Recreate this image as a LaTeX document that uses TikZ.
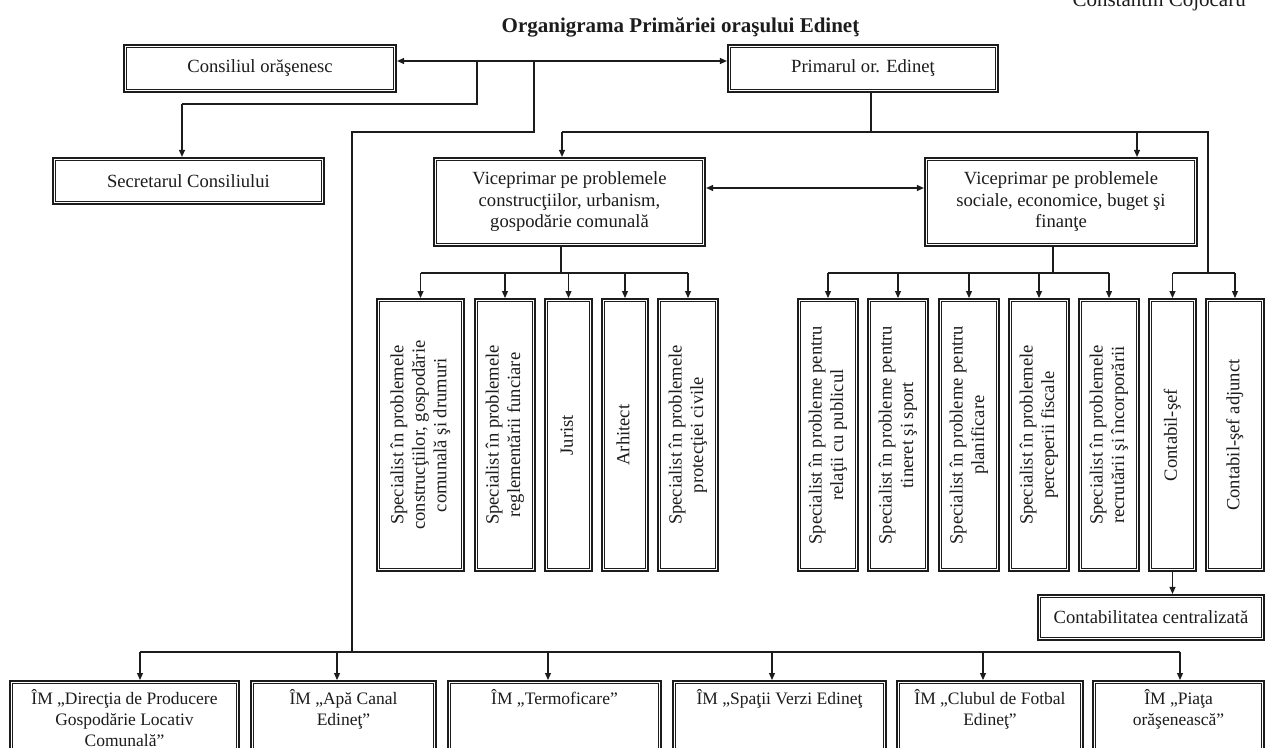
\documentclass[tikz,border=0pt]{standalone}
\usepackage{fontspec}
\setmainfont{Liberation Serif}
\usetikzlibrary{arrows.meta}
\newcommand\boxfont{\fontsize{18.6}{21.5}\selectfont}
\newcommand\botfont{\fontsize{17.5}{21}\selectfont}
\newcommand\titlefont{\fontsize{21}{25}\selectfont\bfseries}
\newcommand\vlines[1]{\rotatebox{90}{\begin{tabular}{@{}c@{}}#1\end{tabular}}}
\definecolor{ink}{HTML}{1C1C1C}
\tikzset{
  dbox/.style={draw=ink, line width=2.2pt, inner sep=0pt, align=center, font=\boxfont, text=ink, fill=white},
  vbox/.style={draw=ink, line width=2.2pt, inner sep=0pt, font=\boxfont, text=ink, fill=white, minimum height=272pt, anchor=north},
  bbox/.style={dbox, minimum height=100pt, anchor=north},
  btext/.style={anchor=north, font=\botfont, align=center, inner sep=0pt, text=ink},
  conn/.style={draw=ink, line width=1.1pt},
  arr/.style={conn, -{Triangle[length=7pt,width=6pt]}},
  darr/.style={conn, {Triangle[length=7pt,width=6pt]}-{Triangle[length=7pt,width=6pt]}},
}
\begin{document}
\begin{tikzpicture}[x=1pt,y=-1pt]
\useasboundingbox (0,0) rectangle (1266,747);
\fill[white] (0,0) rectangle (1266,747);
\clip (0,0) rectangle (1266,747);

% texts
\node[anchor=base, font=\titlefont, text=ink] (title) at (680.5,32) {Organigrama Primăriei oraşului Edineţ};
\node[anchor=base west, font=\fontsize{21}{25}\selectfont, text=ink] (author) at (1069,6) {Constantin Cojocaru};

% top boxes
\node[dbox, minimum width=272pt, minimum height=47pt] (cons) at (260,68.5) {Consiliul orăşenesc};
\node[dbox, minimum width=270pt, minimum height=47pt] (prim) at (863,68.5) {Primarul or. Edineţ};
\node[dbox, minimum width=271pt, minimum height=46pt] (secr) at (188.5,181) {Secretarul Consiliului};
\node[dbox, minimum width=271pt, minimum height=88pt] (v1) at (569.5,202) {Viceprimar pe problemele\\construcţiilor, urbanism,\\gospodărie comunală};
\node[dbox, minimum width=272pt, minimum height=88pt] (v2) at (1061,202) {Viceprimar pe problemele\\sociale, economice, buget şi\\finanţe};

% vertical boxes
\node[vbox, minimum width=87pt] (s1) at (420.5,298) {\vlines{Specialist în problemele\\construcţiilor, gospodărie\\comunală şi drumuri}};
\node[vbox, minimum width=60pt] (s2) at (505,298) {\vlines{Specialist în problemele\\reglementării funciare}};
\node[vbox, minimum width=47pt] (jur) at (568.5,298) {\vlines{Jurist}};
\node[vbox, minimum width=46pt] (arh) at (625,298) {\vlines{Arhitect}};
\node[vbox, minimum width=60pt] (s5) at (688,298) {\vlines{Specialist în problemele\\protecţiei civile}};
\node[vbox, minimum width=60pt] (r1) at (828,298) {\vlines{Specialist în probleme pentru\\relaţii cu publicul}};
\node[vbox, minimum width=60pt] (r2) at (898,298) {\vlines{Specialist în probleme pentru\\tineret şi sport}};
\node[vbox, minimum width=60pt] (r3) at (969,298) {\vlines{Specialist în probleme pentru\\planificare}};
\node[vbox, minimum width=60pt] (r4) at (1039,298) {\vlines{Specialist în problemele\\perceperii fiscale}};
\node[vbox, minimum width=60pt] (r5) at (1109,298) {\vlines{Specialist în problemele\\recrutării şi încorporării}};
\node[vbox, minimum width=47pt] (cs) at (1172.5,298) {\vlines{Contabil-şef}};
\node[vbox, minimum width=58pt] (csa) at (1235,298) {\vlines{Contabil-şef adjunct}};

\node[dbox, minimum width=226pt, minimum height=45pt] (cc) at (1151,617.5) {Contabilitatea centralizată};

% bottom boxes
\node[bbox, minimum width=229pt] (b1) at (124.5,680) {};
\node[bbox, minimum width=185pt] (b2) at (343.5,680) {};
\node[bbox, minimum width=213pt] (b3) at (554.5,680) {};
\node[bbox, minimum width=213pt] (b4) at (779.5,680) {};
\node[bbox, minimum width=186pt] (b5) at (990,680) {};
\node[bbox, minimum width=171pt] (b6) at (1178.5,680) {};
\node[btext] (b1t) at ([yshift=-9pt]b1.north) {ÎM „Direcţia de Producere\\Gospodărie Locativ\\Comunală”};
\node[btext] (b2t) at ([yshift=-9pt]b2.north) {ÎM „Apă Canal\\Edineţ”};
\node[btext] (b3t) at ([yshift=-9pt]b3.north) {ÎM „Termoficare”};
\node[btext] (b4t) at ([yshift=-9pt]b4.north) {ÎM „Spaţii Verzi Edineţ};
\node[btext] (b5t) at ([yshift=-9pt]b5.north) {ÎM „Clubul de Fotbal\\Edineţ”};
\node[btext] (b6t) at ([yshift=-9pt]b6.north) {ÎM „Piaţa\\orăşenească”};

% inner frames
\foreach \n in {cons,prim,secr,v1,v2,s1,s2,jur,arh,s5,r1,r2,r3,r4,r5,cs,csa,cc,b1,b2,b3,b4,b5,b6}
  \draw[ink, line width=1pt] ([shift={(3.4pt,-3.4pt)}]\n.north west) rectangle ([shift={(-3.4pt,3.4pt)}]\n.south east);

% junction coordinates
\coordinate (j1) at (477,61);
\coordinate (j2) at (534,61);
\coordinate (k1) at (182,104);
\coordinate (k2) at (352,132);
\coordinate (bus) at (352,652);
\coordinate (pj) at (871,132);
\coordinate (va) at (562,132);
\coordinate (vb) at (1137,132);
\coordinate (vc) at (1208,132);
\coordinate (vd) at (1208,273);
\coordinate (h1) at (815,188);
\coordinate (w1) at (561,273);
\coordinate (w2) at (1053,273);
\coordinate (bb1) at (140,652);
\coordinate (bb2) at (337,652);
\coordinate (bb3) at (548,652);
\coordinate (bb4) at (772,652);
\coordinate (bb5) at (983,652);
\coordinate (bb6) at (1180,652);

% connectors
\draw[darr] (cons.east |- j1) -- (prim.west |- j1);
\draw[conn] (j1) |- (k1);
\draw[arr] (k1) -- (k1 |- secr.north);
\draw[conn] (j2) |- (k2) -- (bus);
\draw[conn] (bb1) -- (bb6);
\foreach \i in {1,...,6} \draw[arr] (bb\i) -- (bb\i |- b\i.north);

\draw[conn] (prim.south -| pj) -- (pj);
\draw[conn] (va) -- (vc) -- (vd);
\draw[arr] (va) -- (va |- v1.north);
\draw[arr] (vb) -- (vb |- v2.north);
\draw[darr] (v1.east |- h1) -- (v2.west |- h1);

\draw[conn] (v1.south -| w1) -- (w1);
\draw[conn] (s1.north |- w1) -- (s5.north |- w1);
\foreach \n in {s1,s2,jur,arh,s5} \draw[arr] (\n.north |- w1) -- (\n.north);

\draw[conn] (v2.south -| w2) -- (w2);
\draw[conn] (r1.north |- w2) -- (r5.north |- w2);
\foreach \n in {r1,r2,r3,r4,r5} \draw[arr] (\n.north |- w2) -- (\n.north);

\draw[conn] (cs.north |- vd) -- (csa.north |- vd);
\draw[arr] (cs.north |- vd) -- (cs.north);
\draw[arr] (csa.north |- vd) -- (csa.north);
\draw[arr] (cs.south) -- (cs.south |- cc.north);
\end{tikzpicture}
\end{document}
